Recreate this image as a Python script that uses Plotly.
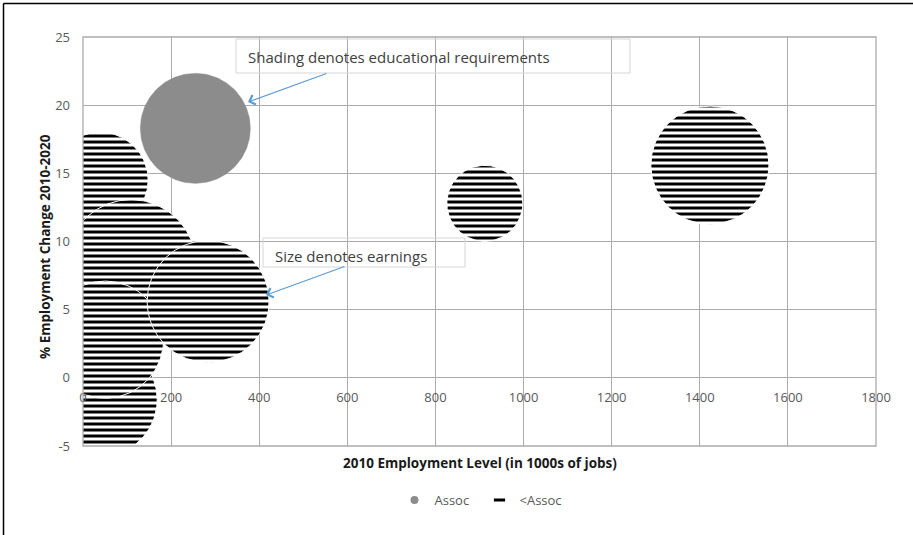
import numpy as np
import plotly.graph_objects as go

# ---------------- data ----------------
x_ticks = [0, 200, 400, 600, 800, 1000, 1200, 1400, 1600, 1800]
y_ticks = [-5, 0, 5, 10, 15, 20, 25]
y_tick_labels = ["-5", "0", "5", "10", "15", "20", "25"]

# "Assoc" (associate degree required) occupations
assoc_level = [255]          # 2010 employment, 1000s of jobs
assoc_change = [18.3]        # % change 2010-2020
assoc_earn = [37.3]          # earnings (bubble size)

# "<Assoc" occupations
lt_level = [39, 109, 39, 50, 284, 912, 1423]
lt_change = [14.5, 8.3, -1.6, 2.8, 5.6, 12.8, 15.6]
lt_earn = [28.4, 52.2, 40.1, 42.3, 45.9, 17.8, 43.0]

# ---------------- layout geometry ----------------
W, H = 913, 535
ML, MR, MT, MB = 83, 37, 37, 89
PW, PH = W - ML - MR, H - MT - MB
X_RANGE = [0, 1800]
Y_RANGE = [-5, 25]
PX_X = PW / (X_RANGE[1] - X_RANGE[0])
PX_Y = PH / (Y_RANGE[1] - Y_RANGE[0])
BUBBLE_SCALE = 9.0   # px radius per sqrt(earnings)

GRID = "#ababab"
TICK_COL = "#595959"
TITLE_COL = "#1a1a1a"
FONT = "Open Sans"


def bubble(xc, yc, earn, n=160):
    r = BUBBLE_SCALE * np.sqrt(earn)
    t = np.linspace(0, 2 * np.pi, n)
    return xc + r / PX_X * np.cos(t), yc + r / PX_Y * np.sin(t)


fig = go.Figure()

for xc, yc, e in zip(lt_level, lt_change, lt_earn):
    bx, by = bubble(xc, yc, e)
    fig.add_trace(go.Scatter(
        x=bx, y=by, mode="lines", fill="toself",
        fillcolor="white",
        fillpattern=dict(shape="-", fgcolor="#000000", bgcolor="#ffffff",
                         fgopacity=1, fillmode="replace",
                         size=6, solidity=0.5),
        line=dict(color="white", width=1),
        showlegend=False, hoverinfo="skip"))

for xc, yc, e in zip(assoc_level, assoc_change, assoc_earn):
    bx, by = bubble(xc, yc, e)
    fig.add_trace(go.Scatter(
        x=bx, y=by, mode="lines", fill="toself",
        fillcolor="#8c8c8c", line=dict(color="#8c8c8c", width=0.5),
        showlegend=False, hoverinfo="skip"))

# legend entries
fig.add_trace(go.Scatter(x=[None], y=[None], mode="markers", name="Assoc",
                         marker=dict(symbol="circle", size=8, color="#8c8c8c")))
fig.add_trace(go.Scatter(x=[None], y=[None], mode="markers", name="<Assoc",
                         marker=dict(symbol="line-ew", size=8,
                                     line=dict(color="black", width=3))))

zero_pos = (0 - Y_RANGE[0]) / (Y_RANGE[1] - Y_RANGE[0])


def px_x(p):
    return (p - ML) / PW


def px_y(p):
    return (MT + PH - p) / PH


fig.update_layout(
    width=W, height=H,
    margin=dict(l=ML, r=MR, t=MT, b=MB),
    paper_bgcolor="white", plot_bgcolor="white",
    font=dict(family=FONT, size=13, color=TICK_COL),
    xaxis=dict(range=X_RANGE, tickvals=x_ticks, showgrid=True,
               gridcolor=GRID, gridwidth=1.3, zeroline=False,
               showline=False, anchor="free", position=zero_pos,
               ticks="", ticklabelstandoff=10,
               tickfont=dict(size=13, color=TICK_COL)),
    yaxis=dict(range=Y_RANGE, tickvals=y_ticks, ticktext=y_tick_labels,
               showgrid=True,
               gridcolor=GRID, gridwidth=1.3, zeroline=False,
               showline=False, ticks="", ticklabelstandoff=12,
               tickfont=dict(size=13, color=TICK_COL)),
    legend=dict(orientation="h", x=0.5, xanchor="center",
                y=px_y(500), yanchor="middle", entrywidth=40,
                font=dict(size=13, color=TICK_COL), bgcolor="rgba(0,0,0,0)"),
    showlegend=True,
)

shapes = [
    # plot-area border
    dict(type="rect", xref="paper", yref="paper", x0=0, x1=1, y0=0, y1=1,
         line=dict(color=GRID, width=1.3)),
    # annotation boxes
    dict(type="rect", xref="paper", yref="paper", x0=px_x(236), x1=px_x(630),
         y0=px_y(73), y1=px_y(39), line=dict(color="#d6d6d6", width=1)),
    dict(type="rect", xref="paper", yref="paper", x0=px_x(263), x1=px_x(465),
         y0=px_y(267), y1=px_y(238), line=dict(color="#d6d6d6", width=1)),
    # picture frame (left and top)
    dict(type="line", xref="paper", yref="paper", x0=px_x(3.5), x1=px_x(3.5),
         y0=px_y(H), y1=px_y(3.5), line=dict(color="black", width=1.5)),
    dict(type="line", xref="paper", yref="paper", x0=px_x(3.5), x1=px_x(W),
         y0=px_y(3.5), y1=px_y(3.5), line=dict(color="black", width=1.5)),
]
fig.update_layout(shapes=shapes)

ann = [
    dict(xref="paper", yref="paper", x=px_x(246), y=px_y(57),
         xanchor="left", yanchor="middle", showarrow=False,
         text="Shading denotes educational requirements",
         font=dict(size=15, color="#404040")),
    dict(xref="paper", yref="paper", x=px_x(273), y=px_y(256),
         xanchor="left", yanchor="middle", showarrow=False,
         text="Size denotes earnings",
         font=dict(size=15, color="#404040")),
    dict(xref="paper", yref="paper", x=px_x(248), y=px_y(102), text="",
         showarrow=True, ax=80, ay=-29, arrowhead=4, arrowsize=1.6,
         arrowwidth=1.2, arrowcolor="#5b9bd5"),
    dict(xref="paper", yref="paper", x=px_x(266), y=px_y(295), text="",
         showarrow=True, ax=80, ay=-29, arrowhead=4, arrowsize=1.6,
         arrowwidth=1.2, arrowcolor="#5b9bd5"),
    dict(xref="paper", yref="paper", x=0.5, y=px_y(463),
         xanchor="center", yanchor="middle", showarrow=False,
         text="<b>2010 Employment Level (in 1000s of jobs)</b>",
         font=dict(size=13.5, color=TITLE_COL)),
    dict(xref="paper", yref="paper", x=px_x(45), y=px_y(247), textangle=-90,
         xanchor="center", yanchor="middle", showarrow=False,
         text="<b>% Employment Change 2010-2020</b>",
         font=dict(size=13.5, color=TITLE_COL)),
]
fig.update_layout(annotations=ann)

fig.write_html("out.html")
